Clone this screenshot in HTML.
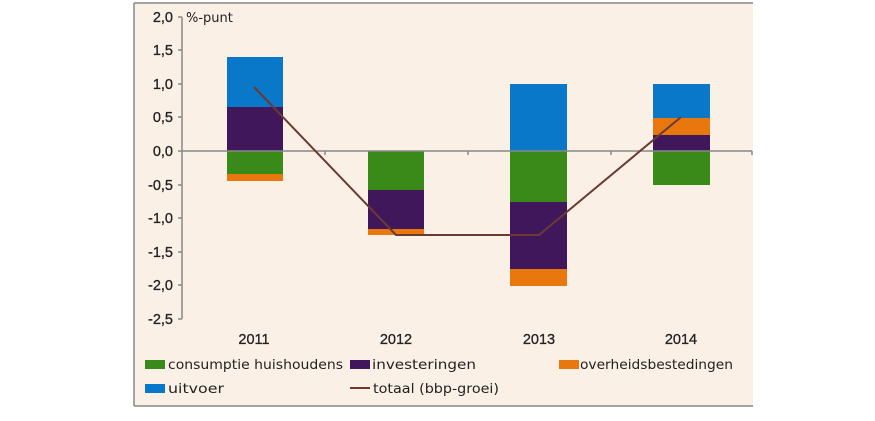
<!DOCTYPE html><html><head><style>body{margin:0;background:#fff}</style></head><body>
<svg width="875" height="416" xmlns="http://www.w3.org/2000/svg" font-family="DejaVu Sans, Verdana, sans-serif" font-size="13" fill="#222">
<rect x="134" y="3" width="619" height="403" fill="#faf0e6"/>
<g stroke="#888" stroke-width="1.5"><line x1="134" y1="3" x2="753" y2="3"/><line x1="134" y1="3" x2="134" y2="406"/><line x1="134" y1="406" x2="753" y2="406"/></g>
<g fill="#222" text-anchor="end" font-family="Liberation Sans, Arial, sans-serif" font-size="14.5" stroke="#222" stroke-width="0.3">
<text x="173" y="22">2,0</text><text x="173" y="55">1,5</text><text x="173" y="89">1,0</text><text x="173" y="122">0,5</text><text x="173" y="156">0,0</text><text x="173" y="190">-0,5</text><text x="173" y="223">-1,0</text><text x="173" y="257">-1,5</text><text x="173" y="290">-2,0</text><text x="173" y="324">-2,5</text>
</g>
<text x="186" y="22">%-punt</text>
<g stroke="#888" stroke-width="1.5">
<line x1="182" y1="17" x2="182" y2="319"/>
<line x1="178" y1="17" x2="182" y2="17"/><line x1="178" y1="50" x2="182" y2="50"/><line x1="178" y1="84" x2="182" y2="84"/><line x1="178" y1="117" x2="182" y2="117"/><line x1="178" y1="151" x2="182" y2="151"/><line x1="178" y1="185" x2="182" y2="185"/><line x1="178" y1="218" x2="182" y2="218"/><line x1="178" y1="252" x2="182" y2="252"/><line x1="178" y1="285" x2="182" y2="285"/><line x1="178" y1="319" x2="182" y2="319"/>
</g>
<rect x="227" y="57" width="56" height="50" fill="#0a78c8"/>
<rect x="227" y="107" width="56" height="44" fill="#41175c"/>
<rect x="227" y="151" width="56" height="23" fill="#3a8a1a"/>
<rect x="227" y="174" width="56" height="7" fill="#e8780e"/>
<rect x="368" y="151" width="56" height="39" fill="#3a8a1a"/>
<rect x="368" y="190" width="56" height="39" fill="#41175c"/>
<rect x="368" y="229" width="56" height="6" fill="#e8780e"/>
<rect x="510" y="84" width="57" height="67" fill="#0a78c8"/>
<rect x="510" y="151" width="57" height="51" fill="#3a8a1a"/>
<rect x="510" y="202" width="57" height="67" fill="#41175c"/>
<rect x="510" y="269" width="57" height="17" fill="#e8780e"/>
<rect x="653" y="84" width="57" height="34" fill="#0a78c8"/>
<rect x="653" y="118" width="57" height="17" fill="#e8780e"/>
<rect x="653" y="135" width="57" height="16" fill="#41175c"/>
<rect x="653" y="151" width="57" height="34" fill="#3a8a1a"/>
<g stroke="#888" stroke-width="1.5">
<line x1="182" y1="151" x2="752" y2="151"/>
<line x1="325" y1="151" x2="325" y2="155"/><line x1="468" y1="151" x2="468" y2="155"/><line x1="611" y1="151" x2="611" y2="155"/><line x1="752" y1="151" x2="752" y2="155"/>
</g>
<polyline points="254,87 396,235 539,235 681,117" fill="none" stroke="#6b3a32" stroke-width="2"/>
<g text-anchor="middle" font-family="Liberation Sans, Arial, sans-serif" font-size="14.5" stroke="#222" stroke-width="0.3"><text x="254" y="344">2011</text><text x="396" y="344">2012</text><text x="539" y="344">2013</text><text x="681" y="344">2014</text></g>
<rect x="145" y="360" width="20" height="9" fill="#3a8a1a"/><text x="168" y="369" textLength="175" lengthAdjust="spacingAndGlyphs">consumptie huishoudens</text>
<rect x="350" y="360" width="20" height="9" fill="#41175c"/><text x="372" y="369" textLength="104" lengthAdjust="spacingAndGlyphs">investeringen</text>
<rect x="559" y="360" width="20" height="9" fill="#e8780e"/><text x="580" y="369" textLength="153" lengthAdjust="spacingAndGlyphs">overheidsbestedingen</text>
<rect x="145" y="384" width="20" height="9" fill="#0a78c8"/><text x="168" y="393" textLength="56" lengthAdjust="spacingAndGlyphs">uitvoer</text>
<line x1="350" y1="388" x2="370" y2="388" stroke="#6b3a32" stroke-width="2"/><text x="373" y="393" textLength="126" lengthAdjust="spacingAndGlyphs">totaal (bbp-groei)</text>
</svg>
</body></html>
